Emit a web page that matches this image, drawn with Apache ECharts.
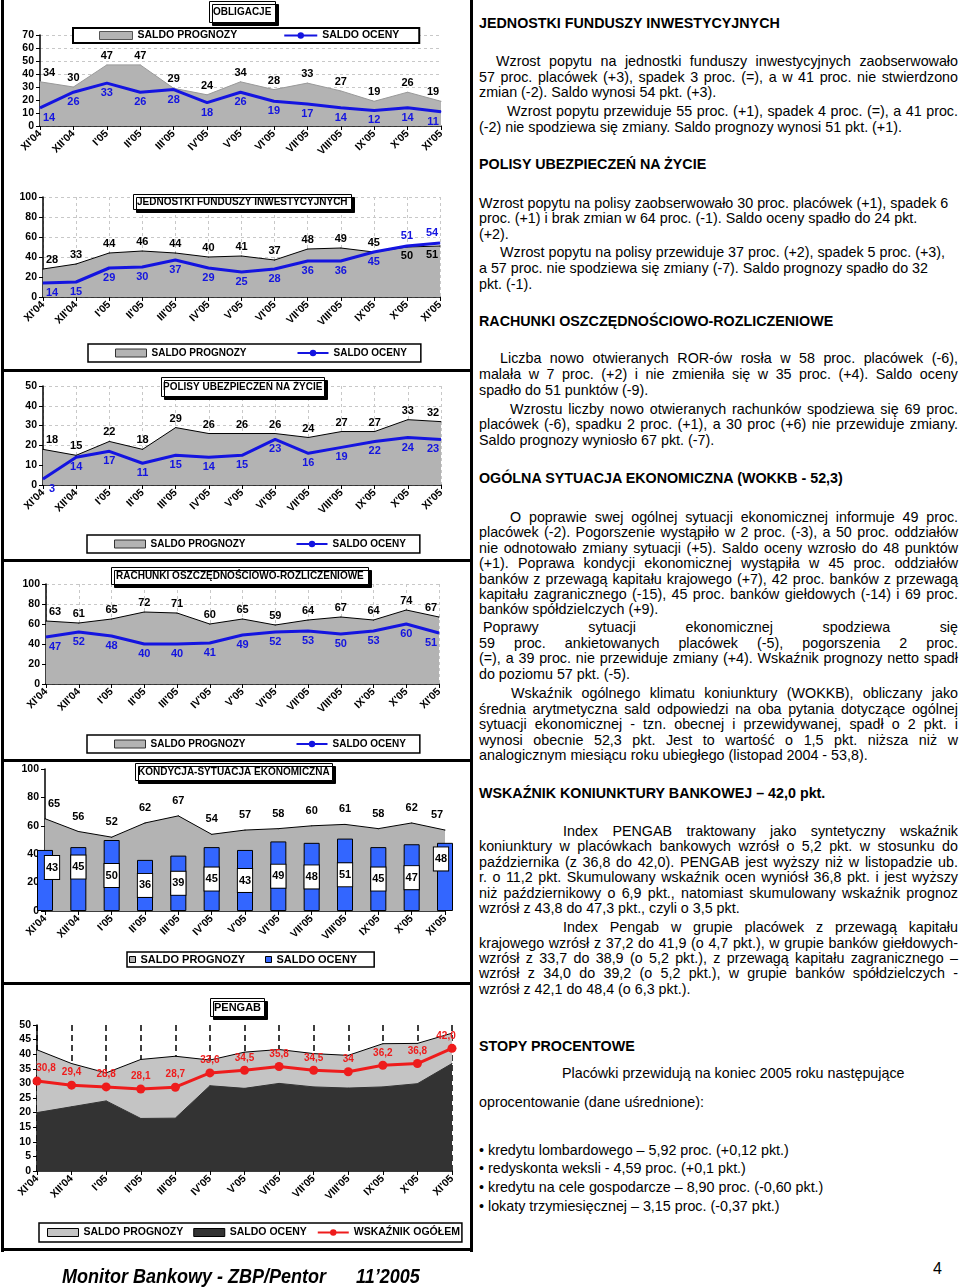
<!DOCTYPE html>
<html><head><meta charset="utf-8">
<script src="https://cdn.jsdelivr.net/npm/echarts@6/dist/echarts.min.js"></script>
<style>
body{margin:0;width:960px;height:1288px;position:relative;background:#fff;font-family:'Liberation Sans',Arial,sans-serif;overflow:hidden}
.ch{position:absolute;left:0;width:470px}
.ln{position:absolute;font-size:14.3px;line-height:16px;white-space:nowrap;color:#000}
.j{text-align:justify;text-align-last:justify;white-space:normal}
.h{font-weight:bold}
.bar{position:absolute;background:#000}
</style></head><body>
<div id="c1" class="ch" style="top:0;height:175px"></div>
<div id="c2" class="ch" style="top:175px;height:195px"></div>
<div id="c3" class="ch" style="top:370px;height:190px"></div>
<div id="c4" class="ch" style="top:560px;height:200px"></div>
<div id="c5" class="ch" style="top:760px;height:223px"></div>
<div id="c6" class="ch" style="top:983px;height:267px"></div>
<div class="bar" style="left:1px;top:0;width:3px;height:1252px"></div>
<div class="bar" style="left:470px;top:0;width:3px;height:1252px"></div>
<div class="bar" style="left:1px;top:369px;width:472px;height:3px"></div>
<div class="bar" style="left:1px;top:559px;width:472px;height:3px"></div>
<div class="bar" style="left:1px;top:759px;width:472px;height:3px"></div>
<div class="bar" style="left:1px;top:982px;width:472px;height:3px"></div>
<div class="bar" style="left:1px;top:1248px;width:472px;height:3px"></div>
<div id="txt"></div>
<div style="position:absolute;left:62px;top:1265px;font-weight:bold;font-style:italic;font-size:20px;white-space:pre;transform:scaleX(0.9);transform-origin:0 0">Monitor Bankowy - ZBP/Pentor      11’2005</div>
<div style="position:absolute;left:933px;top:1260px;font-size:16px">4</div>
<script>
// ---------- DATA ----------
const categories = ["XI'04","XII'04","I'05","II'05","III'05","IV'05","V'05","VI'05","VII'05","VIII'05","IX'05","X'05","XI'05"];
const obligacjePrognozy = [34,30,47,47,29,24,34,28,33,27,19,26,19];
const obligacjeOceny    = [14,26,33,26,28,18,26,19,17,14,12,14,11];
const jfiPrognozy       = [28,33,44,46,44,40,41,37,48,49,45,50,51];
const jfiOceny          = [14,15,29,30,37,29,25,28,36,36,45,51,54];
const polisyPrognozy    = [18,15,22,18,29,26,26,26,24,27,27,33,32];
const polisyOceny       = [3,14,17,11,15,14,15,23,16,19,22,24,23];
const rorPrognozy       = [63,61,65,72,71,60,65,59,64,67,64,74,67];
const rorOceny          = [47,52,48,40,40,41,49,52,53,50,53,60,51];
const kondycjaPrognozy  = [65,56,52,62,67,54,57,58,60,61,58,62,57];
const kondycjaOceny     = [43,45,50,36,39,45,43,49,48,51,45,47,48];
const pengabPrognozy    = [41.5,36.8,33.6,38.2,39.3,38.0,40.7,41.6,40.2,39.6,43.6,43.7,47.2];
const pengabOceny       = [20.0,22.0,24.0,18.0,18.1,29.2,28.3,30.0,28.8,28.4,28.8,29.9,36.8];
const pengabWskaznik    = ['30.8','29.4','28.8','28.1','28.7','33.6','34.5','35.8','34.5','34','36.2','36.8','42.0'];

const textLines = [
 [23,479,'JEDNOSTKI FUNDUSZY INWESTYCYJNYCH','h'],
 [61,496,'Wzrost popytu na jednostki funduszy inwestycyjnych zaobserwowało','j'],
 [77,479,'57 proc. placówek (+3), spadek  3 proc. (=), a w 41 proc. nie stwierdzono','j'],
 [92,479,'zmian (-2). Saldo wynosi 54 pkt. (+3).',''],
 [111,507,'Wzrost popytu przewiduje 55 proc. (+1), spadek 4 proc. (=), a 41 proc.','j'],
 [127,479,'(-2) nie spodziewa się zmiany. Saldo prognozy wynosi 51 pkt. (+1).',''],
 [164,479,'POLISY UBEZPIECZEŃ NA ŻYCIE','h'],
 [203,479,'Wzrost popytu na polisy zaobserwowało 30 proc. placówek (+1), spadek 6',''],
 [218,479,'proc. (+1) i brak zmian w  64 proc. (-1). Saldo oceny spadło do 24 pkt.',''],
 [234,479,'(+2).',''],
 [252,500,'Wzrost popytu na polisy przewiduje 37 proc. (+2), spadek  5 proc. (+3),',''],
 [268,479,'a 57 proc. nie spodziewa się zmiany (-7). Saldo prognozy spadło do 32',''],
 [284,479,'pkt. (-1).',''],
 [321,479,'RACHUNKI OSZCZĘDNOŚCIOWO-ROZLICZENIOWE','h'],
 [358,500,'Liczba nowo otwieranych ROR-ów rosła w 58 proc. placówek (-6),','j'],
 [374,479,'malała w 7 proc. (+2) i nie zmieniła się w 35 proc. (+4). Saldo oceny','j'],
 [390,479,'spadło do 51 punktów  (-9).',''],
 [409,510,'Wzrostu liczby nowo otwieranych rachunków spodziewa się 69 proc.','j'],
 [424,479,'placówek (-6), spadku 2 proc. (+1), a 30 proc (+6) nie przewiduje zmiany.','j'],
 [440,479,'Saldo prognozy wyniosło 67 pkt. (-7).',''],
 [478,479,'OGÓLNA SYTUACJA EKONOMICZNA (WOKKB - 52,3)','h'],
 [517,510,'O poprawie swej ogólnej sytuacji ekonomicznej informuje 49 proc.','j'],
 [532,479,'placówek (-2). Pogorszenie wystąpiło w 2 proc. (-3), a 50 proc. oddziałów','j'],
 [548,479,'nie odnotowało zmiany sytuacji (+5). Saldo oceny wzrosło do 48 punktów','j'],
 [563,479,'(+1). Poprawa kondycji ekonomicznej wystąpiła w 45 proc. oddziałów','j'],
 [579,479,'banków z przewagą kapitału krajowego (+7), 42 proc. banków z przewagą','j'],
 [594,479,'kapitału zagranicznego (-15), 45 proc. banków giełdowych (-14) i 69 proc.','j'],
 [609,479,'banków spółdzielczych (+9).',''],
 [627,483,'Poprawy sytuacji ekonomicznej spodziewa się','j'],
 [643,479,'59 proc. ankietowanych placówek (-5), pogorszenia 2 proc.','j'],
 [658,479,'(=), a 39 proc. nie przewiduje zmiany (+4). Wskaźnik prognozy netto spadł','j'],
 [674,479,'do poziomu 57 pkt. (-5).',''],
 [693,511,'Wskaźnik ogólnego klimatu koniunktury (WOKKB), obliczany jako','j'],
 [709,479,'średnia arytmetyczna sald odpowiedzi na oba pytania dotyczące ogólnej','j'],
 [724,479,'sytuacji ekonomicznej - tzn. obecnej i przewidywanej, spadł o 2 pkt. i','j'],
 [740,479,'wynosi obecnie 52,3 pkt. Jest to wartość o 1,5 pkt. niższa niż w','j'],
 [755,479,'analogicznym miesiącu roku ubiegłego (listopad 2004 - 53,8).',''],
 [793,479,'WSKAŹNIK KONIUNKTURY  BANKOWEJ – 42,0 pkt.','h'],
 [831,563,'Index PENGAB traktowany jako syntetyczny wskaźnik','j'],
 [846,479,'koniunktury w placówkach bankowych wzrósł o 5,2 pkt. w stosunku do','j'],
 [862,479,'października (z 36,8 do 42,0). PENGAB jest  wyższy niż w listopadzie ub.','j'],
 [877,479,'r. o 11,2 pkt. Skumulowany wskaźnik ocen wyniósł 36,8 pkt. i jest wyższy','j'],
 [893,479,'niż październikowy o 6,9 pkt., natomiast skumulowany wskaźnik prognoz','j'],
 [908,479,'wzrósł z 43,8 do 47,3 pkt., czyli o 3,5 pkt.',''],
 [927,563,'Index Pengab w grupie placówek z przewagą kapitału','j'],
 [943,479,'krajowego wzrósł z 37,2 do 41,9 (o 4,7 pkt.), w grupie banków giełdowych-','j'],
 [958,479,'wzrósł z 33,7 do 38,9 (o 5,2 pkt.), z przewagą kapitału zagranicznego –','j'],
 [973,479,'wzrósł z 34,0 do 39,2 (o 5,2 pkt.),  w grupie banków spółdzielczych -','j'],
 [989,479,'wzrósł z 42,1 do 48,4 (o 6,3 pkt.).',''],
 [1046,479,'STOPY PROCENTOWE','h'],
 [1073,562,'Placówki przewidują na koniec 2005 roku następujące',''],
 [1102,479,'oprocentowanie (dane uśrednione):',''],
 [1150,479,'• kredytu lombardowego – 5,92 proc. (+0,12 pkt.)',''],
 [1168,479,'• redyskonta weksli - 4,59 proc. (+0,1 pkt.)',''],
 [1187,479,'• kredytu na cele gospodarcze – 8,90 proc. (-0,60 pkt.)',''],
 [1206,479,'• lokaty trzymiesięcznej – 3,15 proc. (-0,37 pkt.)','']
];

// ---------- TEXT ----------
const txt = document.getElementById('txt');
textLines.forEach(([y,x,t,c]) => {
  const d = document.createElement('div');
  d.className = 'ln ' + c;
  d.style.top = (y - 8) + 'px';
  d.style.left = x + 'px';
  if (c === 'j') d.style.width = (958 - x) + 'px';
  d.textContent = t;
  txt.appendChild(d);
});

// ---------- CHART HELPERS ----------
const FF = 'Liberation Sans, Arial, sans-serif';
const BLUE = '#1414e0';
const GRAY = '#b3b3b3';
const bold = (fs, color) => ({fontSize: fs, fontWeight: 'bold', color: color || '#000', fontFamily: FF});
const N = categories.length;
const edgeShift = i => i === 0 ? [9, 0] : i === N - 1 ? [-8, 0] : [0, 0];

function xAxis(split) {
  return {
    type: 'category', data: categories, boundaryGap: false,
    axisLine: {lineStyle: {color: '#000', width: 1.5}},
    axisTick: {show: true, length: 4, alignWithLabel: true, lineStyle: {color: '#000'}},
    axisLabel: Object.assign({interval: 0, rotate: 45, margin: 6}, bold(10.5)),
    splitLine: split ? {show: true, lineStyle: split} : {show: false}
  };
}
function yAxis(max, interval, split) {
  return {
    type: 'value', min: 0, max: max, interval: interval,
    axisLine: {show: true, lineStyle: {color: '#000', width: 1.5}},
    axisTick: {show: true, length: 4, lineStyle: {color: '#000'}},
    axisLabel: Object.assign({margin: 6}, bold(10.5)),
    splitLine: split ? {show: true, lineStyle: split} : {show: false}
  };
}
function titleBox(text, left, top, padding, fs) {
  return {
    text: text, left: left, top: top, padding: padding,
    backgroundColor: '#fff', borderColor: '#000', borderWidth: 1,
    shadowColor: '#000', shadowBlur: 0, shadowOffsetX: 3, shadowOffsetY: 3,
    textStyle: bold(fs), z: 10
  };
}
function legendBox(o, items) {
  return {
    left: o.left, top: o.top, padding: o.padding, itemGap: o.gap,
    itemWidth: o.iw, itemHeight: o.ih, orient: 'horizontal',
    borderColor: '#000', borderWidth: o.bw || 1.5, backgroundColor: '#fff',
    selectedMode: false, textStyle: bold(o.fs), data: items, z: 10
  };
}
function areaS(name, data, o) {
  o = o || {};
  return {
    name: name, type: 'line', z: 2, silent: true,
    data: data.map((v, i) => ({value: v, label: {position: o.pos ? o.pos(i) : 'top', offset: edgeShift(i)}})),
    symbol: 'circle', symbolSize: 1, showAllSymbol: true,
    itemStyle: {color: o.line || '#000'},
    lineStyle: {color: o.line || '#000', width: 1},
    areaStyle: {color: o.color || GRAY, opacity: 1},
    label: Object.assign({show: o.label !== false, distance: o.dist || 3}, bold(11, o.lcolor || '#000'))
  };
}
function lineS(name, data, color, pos) {
  return {
    name: name, type: 'line', z: 3, silent: true,
    data: data.map((v, i) => ({value: v, label: {position: pos(i), offset: edgeShift(i)}})),
    symbol: 'circle', symbolSize: 1, showAllSymbol: true,
    itemStyle: {color: color}, lineStyle: {color: color, width: 3},
    label: Object.assign({show: true, distance: 4}, bold(11, color))
  };
}
const dashGray = {color: '#c8c8c8', type: [3, 3], width: 1};
const stdLegend = (left, top) => legendBox(
  {left: left, top: top, padding: [4, 14, 4, 27], gap: 50, iw: 31, ih: 8, fs: 10},
  [{name: 'SALDO PROGNOZY', icon: 'rect', itemStyle: {color: GRAY, borderColor: '#333', borderWidth: 1}},
   {name: 'SALDO OCENY'}]);

function mk(id, opt) {
  const c = echarts.init(document.getElementById(id), null, {renderer: 'canvas'});
  opt.animation = false;
  c.setOption(opt);
}

// Chart 1: OBLIGACJE
mk('c1', {
  title: titleBox('OBLIGACJE', 209, 1, [6, 4], 10),
  legend: legendBox({left: 73, top: 28, padding: [2, 20, 2, 26], gap: 46, iw: 33, ih: 8, fs: 10.5, bw: 2},
    [{name: 'SALDO PROGNOZY', icon: 'rect', itemStyle: {color: GRAY, borderColor: '#555', borderWidth: 1}},
     {name: 'SALDO OCENY'}]),
  grid: {left: 40, right: 29, top: 35, bottom: 49},
  xAxis: xAxis(null),
  yAxis: yAxis(70, 10, dashGray),
  series: [
    areaS('SALDO PROGNOZY', obligacjePrognozy, {line: '#999'}),
    lineS('SALDO OCENY', obligacjeOceny, BLUE, () => 'bottom')
  ]
});

// Chart 2: JEDNOSTKI FUNDUSZY INWESTYCYJNYCH
mk('c2', {
  title: titleBox('JEDNOSTKI FUNDUSZY INWESTYCYJNYCH', 133, 19, [3, 4], 10),
  legend: stdLegend(88, 169),
  grid: {left: 43, right: 30, top: 22, bottom: 73},
  xAxis: xAxis(dashGray),
  yAxis: yAxis(100, 20, dashGray),
  series: [
    areaS('SALDO PROGNOZY', jfiPrognozy, {pos: i => i >= 11 ? 'bottom' : 'top'}),
    lineS('SALDO OCENY', jfiOceny, BLUE, i => i >= 11 ? 'top' : 'bottom')
  ]
});

// Chart 3: POLISY
mk('c3', {
  title: titleBox('POLISY UBEZPIECZEŃ NA ŻYCIE', 161, 7, [5, 2], 10),
  legend: stdLegend(87, 165),
  grid: {left: 43, right: 29, top: 16, bottom: 75},
  xAxis: xAxis(dashGray),
  yAxis: yAxis(50, 10, dashGray),
  series: [
    areaS('SALDO PROGNOZY', polisyPrognozy),
    lineS('SALDO OCENY', polisyOceny, BLUE, () => 'bottom')
  ]
});

// Chart 4: RACHUNKI
mk('c4', {
  title: titleBox('RACHUNKI OSZCZĘDNOŚCIOWO-ROZLICZENIOWE', 111, 7, [4, 5], 10),
  legend: stdLegend(87, 175),
  grid: {left: 46, right: 31, top: 24, bottom: 76},
  xAxis: xAxis(dashGray),
  yAxis: yAxis(100, 20, dashGray),
  series: [
    areaS('SALDO PROGNOZY', rorPrognozy),
    lineS('SALDO OCENY', rorOceny, BLUE, () => 'bottom')
  ]
});

// Chart 5: KONDYCJA
const barLabelShift = i => i === 0 ? [7, -13] : i === 1 ? [0, -12] : i === 12 ? [-4, -18] : [0, 0];
mk('c5', {
  title: titleBox('KONDYCJA-SYTUACJA EKONOMICZNA', 135, 3, [4, 3], 10),
  legend: legendBox({left: 127, top: 192, padding: [2, 17, 2, 2], gap: 20, iw: 6, ih: 6, fs: 11},
    [{name: 'SALDO PROGNOZY', icon: 'rect', itemStyle: {color: GRAY, borderColor: '#000', borderWidth: 1}},
     {name: 'SALDO OCENY', icon: 'rect', itemStyle: {color: '#3366ff', borderColor: '#000', borderWidth: 1}}]),
  grid: {left: 45, right: 25, top: 9, bottom: 72},
  xAxis: xAxis(null),
  yAxis: yAxis(100, 20, null),
  series: [
    Object.assign(areaS('SALDO PROGNOZY', kondycjaPrognozy, {dist: 9}), {z: 1}),
    {
      name: 'SALDO OCENY', type: 'bar', z: 2, barWidth: 16, clip: true, silent: true,
      data: kondycjaOceny.map((v, i) => ({value: v, label: {offset: barLabelShift(i)}})),
      itemStyle: {color: '#3366ff', borderColor: '#000', borderWidth: 1},
      label: Object.assign({show: true, position: 'inside', backgroundColor: '#fff',
        borderColor: '#000', borderWidth: 1, padding: [6, 1]}, bold(11))
    }
  ]
});

// Chart 6: PENGAB
mk('c6', {
  title: titleBox('PENGAB', 210, 15, [4, 4], 11),
  legend: legendBox({left: 39, top: 240, padding: [4, 2, 4, 8], gap: 10, iw: 31, ih: 8, fs: 10.5},
    [{name: 'SALDO PROGNOZY', icon: 'rect', itemStyle: {color: '#c4c4c4', borderColor: '#000', borderWidth: 1}},
     {name: 'SALDO OCENY', icon: 'rect', itemStyle: {color: '#333', borderColor: '#000', borderWidth: 1}},
     {name: 'WSKAŹNIK OGÓŁEM'}]),
  grid: {left: 37, right: 18, top: 42, bottom: 79},
  xAxis: xAxis({color: '#000', type: [6, 4], width: 1.5}),
  yAxis: yAxis(50, 5, null),
  series: [
    areaS('SALDO PROGNOZY', pengabPrognozy, {color: '#c4c4c4', label: false}),
    areaS('SALDO OCENY', pengabOceny, {color: '#333333', line: '#333', label: false}),
    {
      name: 'WSKAŹNIK OGÓŁEM', type: 'line', z: 4, silent: true,
      data: pengabWskaznik.map((v, i) => ({value: v, label: {offset: i === 0 ? [9, 0] : i === N - 1 ? [-6, 0] : [0, 0]}})),
      symbol: 'circle', symbolSize: 9, showAllSymbol: true,
      itemStyle: {color: '#ee1c1c'}, lineStyle: {color: '#ee1c1c', width: 3},
      label: Object.assign({show: true, position: 'top', distance: 3,
        formatter: p => pengabWskaznik[p.dataIndex].replace('.', ',')}, bold(10, '#ee1c1c'))
    }
  ]
});
</script>
</body></html>
